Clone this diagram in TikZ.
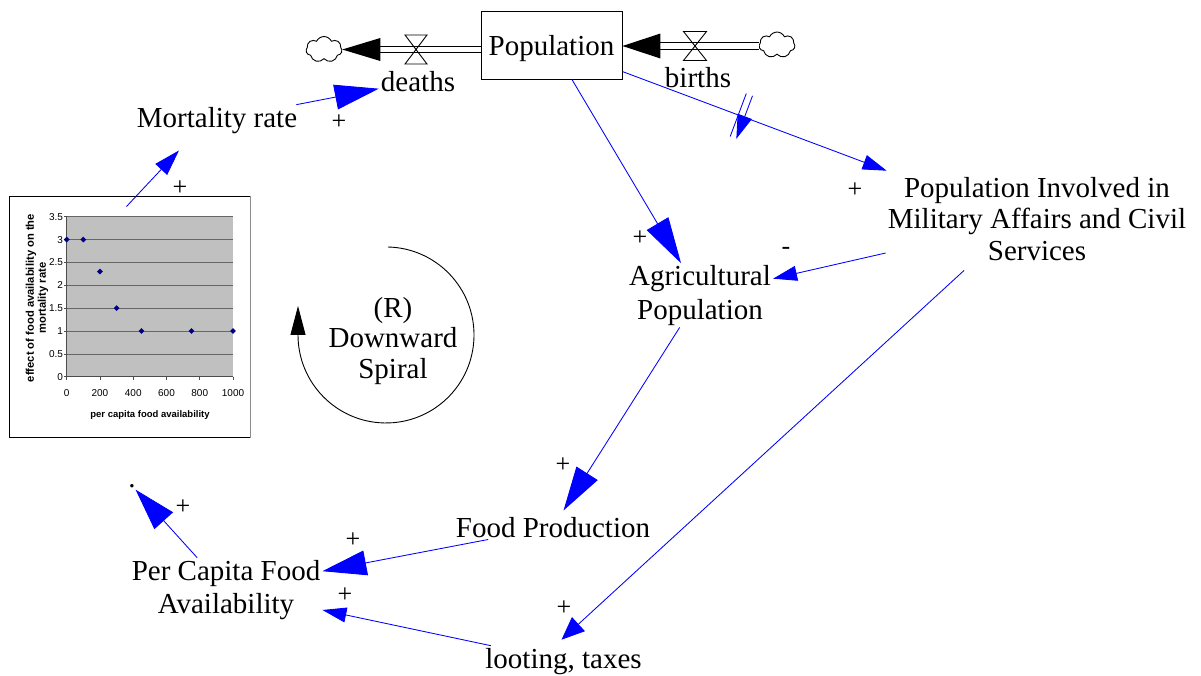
\documentclass[tikz,border=0pt]{standalone}
\usepackage{fontspec}
\setmainfont{Liberation Serif}
\newfontfamily\chartsans{Liberation Sans}
\usetikzlibrary{arrows.meta,shapes.symbols,shapes.geometric,decorations.markings}
\definecolor{linkblue}{RGB}{0,0,255}
\definecolor{plotgray}{RGB}{192,192,192}
\definecolor{navy}{RGB}{0,0,128}
\begin{document}
\begin{tikzpicture}[x=1pt,y=-1pt,
  var/.style={inner sep=2pt, font=\fontsize{29}{32}\selectfont, align=center, anchor=base},
  sign/.style={inner sep=0pt, font=\fontsize{26}{28}\selectfont},
  link/.style={draw=linkblue, line width=0.85pt},
  bighead/.style={-{Triangle[length=44pt,width=25pt]}},
  smallhead/.style={-{Triangle[length=24pt,width=15pt]}},
  pipe/.style={draw=black, double=white, double distance=5.4pt, line width=1.1pt},
  cloudsym/.style={cloud, draw, cloud puffs=7, cloud puff arc=130, aspect=1.4, minimum width=36pt, minimum height=26pt, inner sep=0pt, line width=0.9pt},
  valve/.style={line width=0.9pt},
  tick/.style={inner sep=1pt, font=\chartsans\fontsize{10}{11}\selectfont},
  grid/.style={draw=black!60, line width=0.6pt},
  datapt/.style={diamond, fill=navy, inner sep=0pt, minimum size=6pt}
]
\fill[white] (0,0) rectangle (1201,675);
\useasboundingbox (0,0) rectangle (1201,675);

% ---------- stock and flows ----------
\node[draw, line width=0.9pt, minimum width=141pt, minimum height=68pt, inner sep=0pt,
      font=\fontsize{29}{32}\selectfont, text height=20pt, text depth=0pt] (pop) at (551.5,45) {Population};
\node[cloudsym] (cloudL) at (324,49.5) {};
\node[cloudsym] (cloudR) at (777,45) {};
\coordinate (vL) at (416,49.5);
\coordinate (vR) at (695,46);

\draw[pipe, shorten >=38pt] (vL -| pop.west) -- (vL -| cloudL.east);
\fill (vL -| cloudL.east) -- ++(38,-11.5) -- ++(0,23) -- cycle;
\draw[pipe, shorten <=38pt] (vR -| pop.east) -- (vR -| cloudR.west);
\fill (vR -| pop.east) -- ++(38,-12.5) -- ++(0,25) -- cycle;

\draw[valve] (vL) +(-11,-14.5) -- +(11,-14.5) -- +(-11,14.5) -- +(11,14.5) -- cycle;
\draw[valve] (vR) +(-11.5,-14.5) -- +(11.5,-14.5) -- +(-11.5,14.5) -- +(11.5,14.5) -- cycle;

\node[var] (deaths) at (418,91) {deaths};
\node[var] (births) at (698,87) {births};

% ---------- variables (base = last line's baseline) ----------
\node[var] (mort) at (217,127) {Mortality rate};
\node[var, font=\fontsize{29}{33.5}\selectfont] (ag) at (700,319) {Agricultural\\Population};
\node[var, font=\fontsize{29}{31.5}\selectfont] (mil) at (1037,260) {Population Involved in\\Military Affairs and Civil\\Services};
\node[var] (food) at (553,537) {Food Production};
\node[var] (loot) at (563.5,668) {looting, taxes};
\node[var, font=\fontsize{29}{33}\selectfont] (pcf) at (226,613) {Per Capita Food\\Availability};
\node[var] (dot) at (132,487) {.};
\node[var, font=\fontsize{29}{30.5}\selectfont] (loop) at (393,378) {(R)\\Downward\\Spiral};
\coordinate (loopc) at (386,335);

% ---------- chart ----------
\node[draw, line width=1pt, minimum width=241pt, minimum height=241pt, inner sep=0pt] (chart) at (129.5,316.5) {};
\draw[black!45, line width=1.5pt] (chart.north east) -- (chart.south east);
\begin{scope}[shift={(66.7,376.7)}, x=0.1663pt, y=45.71pt]
  \fill[plotgray] (0,0) rectangle (1000,3.5);
  \foreach \v in {0.5,1,1.5,2,2.5,3,3.5} \draw[grid] (0,\v) -- (1000,\v);
  \draw[black!70, line width=0.6pt] (0,3.5) -- (0,0) -- (1000,0);
  \foreach \v/\t in {0/0,0.5/0.5,1/1,1.5/1.5,2/2,2.5/2.5,3/3,3.5/3.5} {
    \draw[black!70, line width=0.6pt] (0,\v) -- ([xshift=-3pt]0,\v);
    \node[tick, anchor=east] (yl\t) at ([xshift=-2.5pt]0,\v) {\t};
  }
  \foreach \u in {0,200,400,600,800,1000} {
    \draw[black!70, line width=0.6pt] (\u,0) -- ([yshift=-3pt]\u,0);
    \node[tick] (xl\u) at ([yshift=-16pt]\u,0) {\u};
  }
  \foreach \px/\py [count=\k] in {0/3,100/3,200/2.3,300/1.5,450/1,750/1,1000/1}
    \node[datapt] (d\k) at (\px,\py) {};
\end{scope}
\node[inner sep=0pt, font=\chartsans\bfseries\fontsize{9.5}{11}\selectfont] (xtitle) at (150,415) {per capita food availability};
\node[inner sep=0pt, rotate=90, align=center, font=\chartsans\bfseries\fontsize{11.2}{12}\selectfont] (ytitle) at (37,298) {effect of food availability on the\\mortality rate};

% ---------- loop ----------
\draw[line width=0.9pt, -{Triangle[length=29pt,width=15pt]}] (loopc) ++(2,-88) arc[start angle=-88.7, end angle=180, radius=88] -- ++(0,-29);

% ---------- links ----------
\draw[link, bighead] (mort) -- (deaths);
\draw[link, -{Triangle[length=26pt,width=16pt]}] ([shift={(-3,11)}]chart.north) -- ([shift={(-38,15)}]mort.south);
\draw[link, -{Triangle[length=46pt,width=25pt]}] (pop) -- (ag);
\draw[link, smallhead, postaction={decorate, decoration={markings, mark=at position 0.45 with {\draw[linkblue, line width=0.85pt] (-3.3,-23) -- (-3.3,23) (3.3,-23) -- (3.3,23);}}}] (pop) -- ([shift={(1,-4)}]mil.north west);
\draw[link, smallhead] (mil) -- (ag);
\draw[link, bighead, shorten >=5pt] (ag) -- (food);
\draw[link, bighead] (food) -- (pcf);
\draw[link, -{Triangle[length=23pt,width=19pt]}] ([shift={(-73,8)}]mil.south) -- ([shift={(-2,-6)}]loot.north);
\draw[link, smallhead] (loot) -- (pcf);
\draw[link, -{Triangle[length=42pt,width=25pt]}] (pcf) -- (dot);

% ---------- polarity signs ----------
\node[sign] (s1) at (339,122) {+};
\node[sign] (s2) at (180,188) {+};
\node[sign] (s3) at (640,238) {+};
\node[sign] (s4) at (855,190) {+};
\node[sign] (s5) at (786,251) {-};
\node[sign] (s6) at (563,465) {+};
\node[sign] (s7) at (353,540) {+};
\node[sign] (s8) at (564,608) {+};
\node[sign] (s9) at (345,595) {+};
\node[sign] (s10) at (183,507) {+};
\end{tikzpicture}
\end{document}
